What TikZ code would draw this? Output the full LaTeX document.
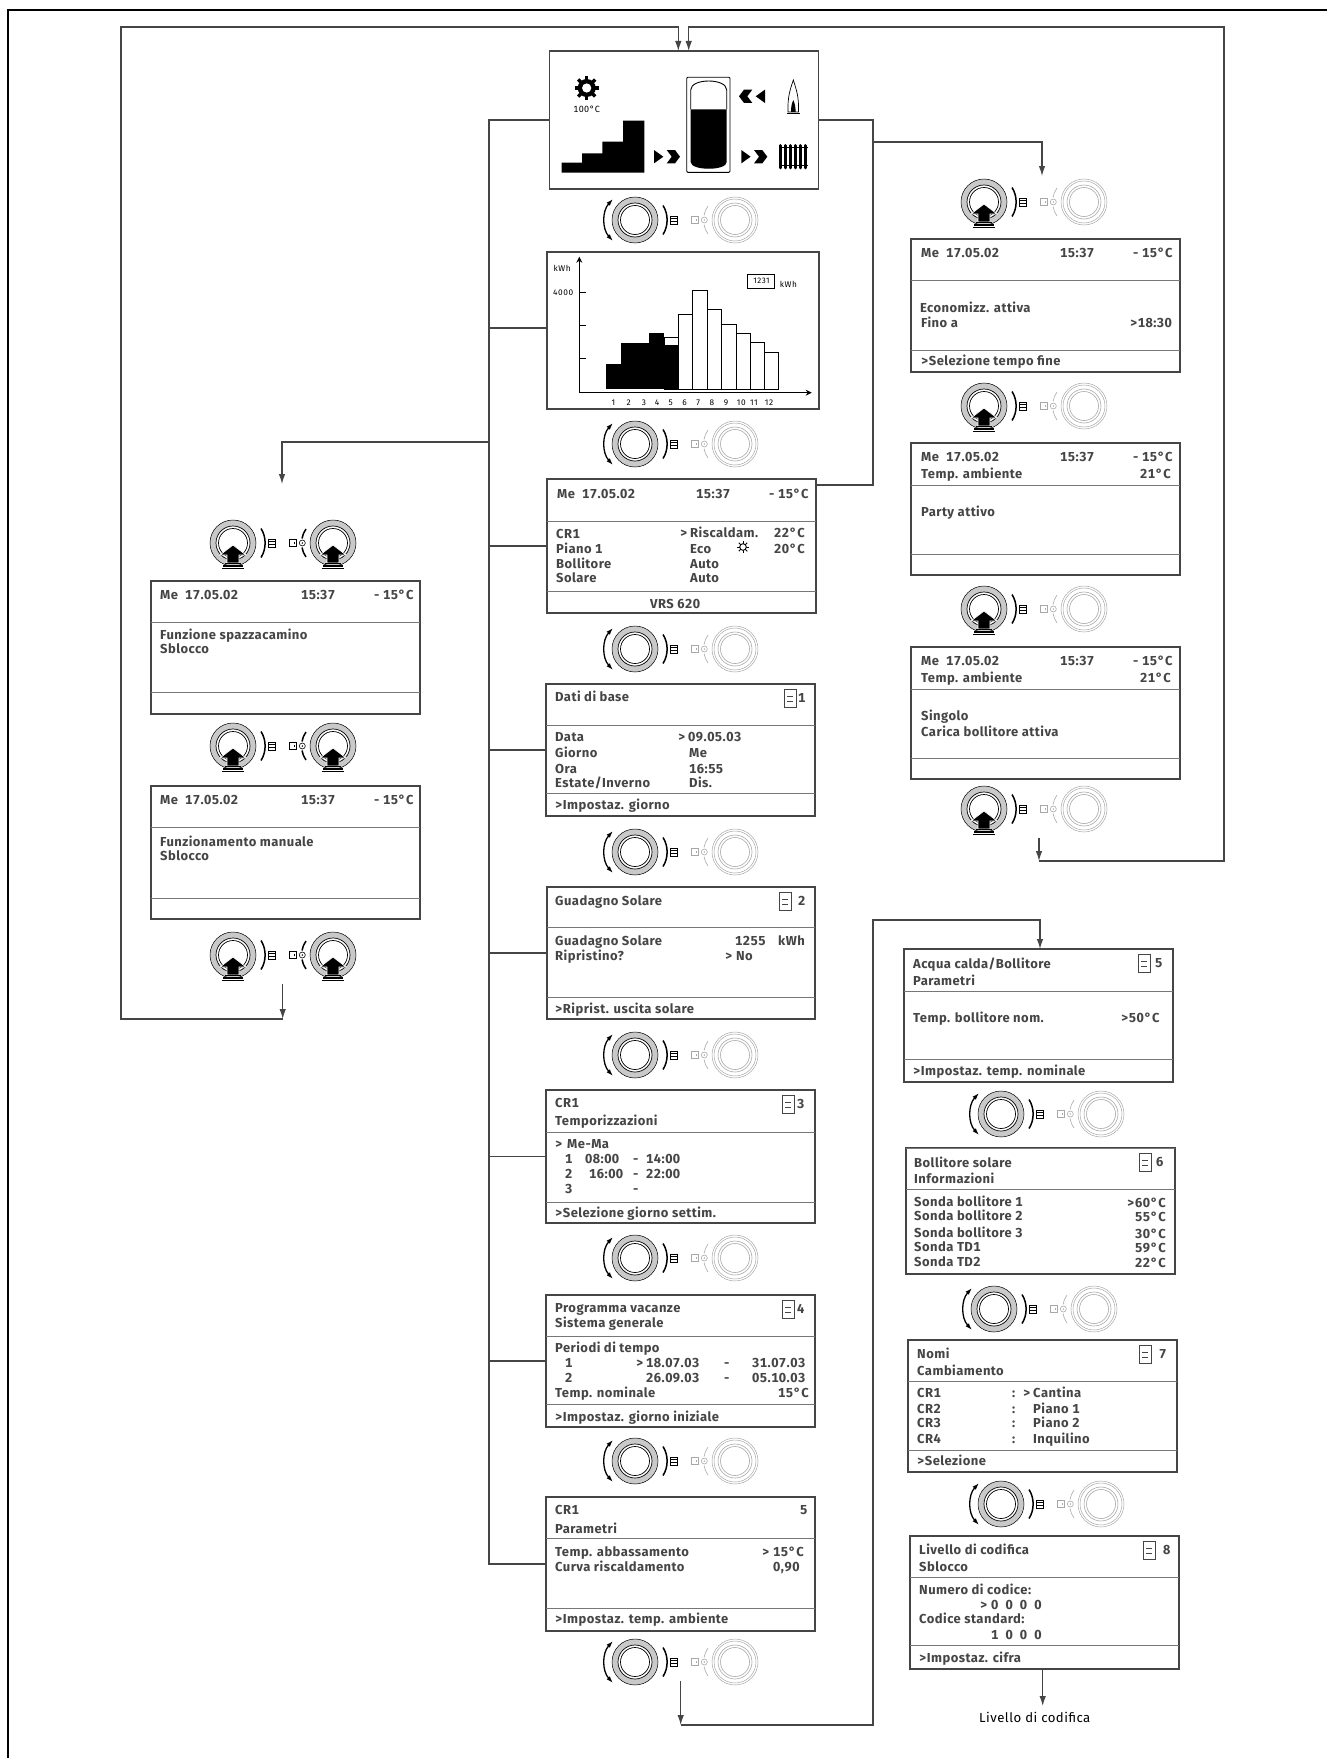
\documentclass[tikz,border=0pt]{standalone}
\usepackage{fontspec}
\usepackage{xcolor}
\usetikzlibrary{arrows.meta,positioning}
\setmainfont{Fira Sans}[LetterSpace=3.5,Numbers=Monospaced]
\newfontfamily\chartfont[LetterSpace=7]{Fira Sans}
\definecolor{inkgray}{HTML}{454545}
\definecolor{rulegray}{HTML}{777777}
\definecolor{fadegray}{HTML}{A8A8A8}

\newcommand{\panel}[7]{%
    \node[screen, minimum width=#4pt, minimum height=#5pt] (#1) at (#2,#3) {};
    \draw[rule] ([yshift=-#6pt]#1.north west) -- ([yshift=-#6pt]#1.north east);
    \draw[rule] ([yshift=-#7pt]#1.north west) -- ([yshift=-#7pt]#1.north east);
}
\newcommand{\screentext}[2]{%
    \begin{scope}[shift={(#1.north west)}]
        \foreach \x/\y/\txt [count=\i] in {#2}
            \node[lbl] (#1t\i) at (\x,\y) {\txt};
    \end{scope}
}
\newcommand{\pageicon}[4]{%
    \begin{scope}[shift={(#1.north west)}]
        \draw[iconbox] (#2,5) rectangle ++(12,18);
        \draw[iconbox] ({#2+3},12.5) -- ++(6,0);
        \draw[iconbox] ({#2+3},17) -- ++(6,0);
        \node[lbl] (#1digit) at (#3,18) {#4};
    \end{scope}
}
\newcommand{\dial}{%
    \draw[black, line width=.5pt, fill=gray!42] (0,0) circle[radius=23pt];
    \draw[black, line width=.7pt, fill=white] (0,0) circle[radius=17pt];
    \draw[black, line width=.7pt] (0,0) circle[radius=14.5pt];
}
\newcommand{\fadedial}{%
    \draw[fadegray, line width=.5pt] (0,0) circle[radius=23pt];
    \draw[fadegray, line width=.5pt] (0,0) circle[radius=21pt];
    \draw[fadegray, line width=.6pt] (0,0) circle[radius=17pt];
    \draw[fadegray, line width=.6pt] (0,0) circle[radius=14.5pt];
}
\newcommand{\pushmark}{%
    \fill[black, draw=white, line width=.7pt] (0,-2) -- (13,-12) -- (6,-12) -- (6,-20) -- (-6,-20) -- (-6,-12) -- (-13,-12) -- cycle;
    \draw[black, line width=1.3pt] (-8,-20.5) -- (8,-20.5);
    \draw[black, line width=1.3pt] (-10,-23) -- (10,-23);
    \draw[black, line width=1.3pt] (-11,-25.5) -- (11,-25.5);
}
\newcommand{\menuside}{%
    \draw[black, line width=1.5pt] (28,14.5) .. controls (33.5,6) and (33.5,-6) .. (28,-14.5);
    \draw[black, line width=.7pt] (35,-4) rectangle (42,4);
    \foreach \h in {-1.5,1.5}
        \draw[black, line width=.5pt] (35,\h) -- (42,\h);
}
\newcommand{\enterside}[2]{%
    \draw[#1, line width=#2] (-27,14) .. controls (-29,11) and (-30.5,8) .. (-31,4.5);
    \draw[#1, line width=#2] (-27,-14) .. controls (-29,-11) and (-30.5,-8) .. (-31,-4.5);
    \draw[#1, line width=.6pt] (-30.7,0) circle[radius=3pt];
    \fill[#1] (-30.7,0) circle[radius=.8pt];
    \draw[#1, line width=.6pt] (-43.3,-3.5) rectangle (-36.7,3.5);
    \draw[#1, line width=.6pt] (-39,-1) -- (-39,1);
}

\begin{document}
\begin{tikzpicture}[
        x=1pt, y=-1pt,
        >={Latex[length=10pt,width=6.5pt]},
        screen/.style={draw=inkgray, fill=white, line width=1.3pt, rectangle, anchor=north west, inner sep=0pt, outer sep=0pt},
        rule/.style={draw=rulegray, line width=1pt},
        lbl/.style={anchor=base west, inner sep=0pt, text=inkgray, font=\bfseries\fontsize{13}{14}\selectfont},
        chartlbl/.style={inner sep=0pt, text=black, font=\chartfont\fontsize{8.3}{9}\selectfont},
        iconbox/.style={draw=inkgray, line width=.7pt},
        wire/.style={draw=inkgray, line width=1.2pt},
        pics/turnpair/.style={code={
            \begin{scope}[x=1pt, y=1pt]
                \dial
                \menuside
                \draw[black, line width=1.3pt, {Latex[length=7pt,width=4.5pt]}-{Latex[length=7pt,width=4.5pt]}] (-22,21) .. controls (-33,9) and (-33,-9) .. (-22,-21);
                \begin{scope}[xshift=100pt]
                    \fadedial
                    \enterside{fadegray}{.6pt}
                \end{scope}
            \end{scope}
        }},
        pics/pushpair/.style={code={
            \begin{scope}[x=1pt, y=1pt]
                \dial
                \menuside
                \pushmark
                \begin{scope}[xshift=100pt]
                    \fadedial
                    \enterside{fadegray}{.6pt}
                \end{scope}
            \end{scope}
        }},
        pics/pushboth/.style={code={
            \begin{scope}[x=1pt, y=1pt]
                \dial
                \menuside
                \pushmark
                \begin{scope}[xshift=100pt]
                    \dial
                    \enterside{black}{1.5pt}
                    \pushmark
                \end{scope}
            \end{scope}
        }},
        pics/flowmark/.style={code={
            \begin{scope}[x=1pt, y=1pt]
                \fill[black] (0,6.7) -- (9.3,0) -- (0,-6.7) -- cycle;
                \fill[black] (12.7,6.7) -- (21,6.7) -- (26,0) -- (21,-6.7) -- (12.7,-6.7) -- (17.7,0) -- cycle;
            \end{scope}
        }}
    ]
    \useasboundingbox (0,0) rectangle (1327,1758);
    \draw[black, line width=1.3pt] (8,1758) -- (8,10) -- (1327,10);

    % screens of the middle column
    \node[screen, minimum width=269pt, minimum height=138pt] (home) at (549.5,51) {};
    \node[screen, minimum width=272pt, minimum height=157pt] (chart) at (547,252) {};
    \panel{base}{547}{479}{269}{134}{42}{112}
    \panel{data}{546}{684}{269}{132}{41}{109}
    \panel{gain}{547}{887}{268}{132}{40}{110}
    \panel{timer}{546}{1090}{269}{133}{42}{112}
    \panel{holiday}{546}{1295}{269}{132}{41}{109}
    \panel{param}{546}{1497}{269}{134}{41}{111}

    % screens of the left column
    \panel{sweep}{151}{581}{269}{133}{41}{111}
    \panel{manual}{151}{786}{269}{133}{41}{112}

    % screens of the right column
    \panel{saving}{911}{239}{269}{133}{41}{111}
    \panel{party}{911}{443}{269}{132}{42}{111}
    \panel{single}{911}{647}{269}{132}{42}{111}
    \panel{water}{904}{949}{269}{133}{42}{110}
    \panel{solar}{906}{1148}{269}{126}{41}{0}
    \panel{names}{908}{1340}{269}{132}{41}{110}
    \panel{code}{910}{1536}{269}{133}{41}{109}

    \screentext{base}{10/19/Me\ \ 17.05.02, 149/19/15:37, 222/19/- 15°C,
        9/59/CR1, 9/74/Piano 1, 9/89/Bollitore, 9/103/Solare,
        133/58/>, 143/58/Riscaldam., 143/74/Eco, 143/89/Auto, 143/103/Auto,
        227/58/22°C, 227/74/20°C, 103/129/VRS 620}
    \screentext{data}{9/17/Dati di base, 9/57/Data, 9/73/Giorno, 9/89/Ora, 9/103/{Estate/Inverno},
        132/57/>, 142/57/09.05.03, 143/73/Me, 143/89/16:55, 143/103/Dis., 9/125/>Impostaz. giorno}
    \pageicon{data}{238}{252}{1}
    \screentext{gain}{8/18/Guadagno Solare, 8/58/Guadagno Solare, 8/73/Ripristino?,
        188/58/1255, 231/58/kWh, 178/73/> No, 8/126/>Riprist. uscita solare}
    \pageicon{gain}{232}{251}{2}
    \screentext{timer}{9/17/CR1, 9/35/Temporizzazioni, 9/58/>, 21/58/Me-Ma,
        19/73/1, 39/73/08:00, 87/73/-, 100/73/14:00,
        19/88/2, 43/88/16:00, 87/88/-, 100/88/22:00,
        19/103/3, 87/103/-, 9/127/>Selezione giorno settim.}
    \pageicon{timer}{236}{251}{3}
    \screentext{holiday}{9/17/Programma vacanze, 9/32/Sistema generale, 9/57/Periodi di tempo,
        19/72/1, 90/72/>, 100/72/18.07.03, 178/72/-, 206/72/31.07.03,
        19/87/2, 100/87/26.09.03, 178/87/-, 206/87/05.10.03,
        9/102/Temp. nominale, 232/102/15°C, 9/126/>Impostaz. giorno iniziale}
    \pageicon{holiday}{236}{251}{4}
    \screentext{param}{9/17/CR1, 254/17/5, 9/36/Parametri, 9/59/Temp. abbassamento, 9/74/Curva riscaldamento,
        216/59/>, 227/59/15°C, 227/74/{0,90}, 9/126/>Impostaz. temp. ambiente}

    \screentext{sweep}{9/18/Me\ \ 17.05.02, 150/18/15:37, 223/18/- 15°C,
        9/58/Funzione spazzacamino, 9/72/Sblocco}
    \screentext{manual}{9/18/Me\ \ 17.05.02, 150/18/15:37, 223/18/- 15°C,
        9/60/Funzionamento manuale, 9/74/Sblocco}

    \screentext{saving}{10/18/Me\ \ 17.05.02, 149/18/15:37, 222/18/- 15°C,
        9/73/Economizz. attiva, 10/88/Fino a, 219/88/>18:30, 10/126/>Selezione tempo fine}
    \screentext{party}{10/18/Me\ \ 17.05.02, 149/18/15:37, 222/18/- 15°C,
        10/35/Temp. ambiente, 229/35/21°C, 10/73/Party attivo}
    \screentext{single}{10/18/Me\ \ 17.05.02, 149/18/15:37, 222/18/- 15°C,
        10/35/Temp. ambiente, 229/35/21°C, 10/73/Singolo, 10/89/Carica bollitore attiva}
    \screentext{water}{9/19/{Acqua calda/Bollitore}, 9/36/Parametri, 9/73/Temp. bollitore nom.,
        217/73/>50°C, 9/126/>Impostaz. temp. nominale}
    \pageicon{water}{234}{251}{5}
    \screentext{solar}{8/19/Bollitore solare, 8/35/Informazioni,
        8/58/Sonda bollitore 1, 8/72/Sonda bollitore 2, 8/89/Sonda bollitore 3, 8/103/Sonda TD1, 8/118/Sonda TD2,
        221/59/>, 229/59/60°C, 229/73/55°C, 229/90/30°C, 229/104/59°C, 229/119/22°C}
    \pageicon{solar}{233}{250}{6}
    \screentext{names}{9/18/Nomi, 9/35/Cambiamento, 9/57/CR1, 9/73/CR2, 9/87/CR3, 9/103/CR4,
        104/57/:, 104/73/:, 104/87/:, 104/103/:, 115/57/>,
        125/57/Cantina, 125/73/Piano 1, 125/87/Piano 2, 125/103/Inquilino, 9/125/>Selezione}
    \pageicon{names}{231}{251}{7}
    \screentext{code}{9/18/Livello di codifica, 9/35/Sblocco, 9/58/Numero di codice:,
        70/73/>, 81/73/0\ \ 0\ \ 0\ \ 0, 9/87/Codice standard:, 81/103/1\ \ 0\ \ 0\ \ 0, 9/126/>Impostaz. cifra}
    \pageicon{code}{233}{253}{8}

    % home screen symbols
    \foreach \a in {0,45,...,315}
        \draw[black, line width=3.4pt] (586.7,88) -- +(\a:12pt);
    \fill[black] (586.7,88) circle[radius=9pt];
    \fill[white] (586.7,88) circle[radius=4.6pt];
    \node[chartlbl, font=\fontsize{9}{10}\selectfont, anchor=base] (hometemp) at (586.7,113) {100°C};
    \fill[black] (561.7,172.7) -- (561.7,162.7) -- (582,162.7) -- (582,153.3) -- (602.3,153.3) -- (602.3,141.7) -- (623,141.7) -- (623,120.7) -- (644.3,120.7) -- (644.3,172.7) -- cycle;
    \pic at (654,156.7) {flowmark};
    \pic at (741.3,156.7) {flowmark};
    \pic[xscale=-1] at (765,96.3) {flowmark};
    \draw[black, line width=.9pt, rounded corners=1pt] (686.7,77.3) rectangle (730,172.3);
    \draw[black, line width=.9pt] (690.7,109.3) -- (690.7,90) .. controls (690.7,78) and (726.7,78) .. (726.7,90) -- (726.7,109.3);
    \fill[black] (690.7,109.3) -- (726.7,109.3) -- (726.7,162) .. controls (726.7,171) and (690.7,171) .. (690.7,162) -- cycle;
    \draw[black, line width=.7pt] (793.3,80) .. controls (790,90) and (787.5,97) .. (788,112) -- (798.5,112) .. controls (799,97) and (796.5,90) .. (793.3,80) -- cycle;
    \fill[black] (793.3,100) .. controls (791.5,104) and (791,107) .. (791,112) -- (795.6,112) .. controls (795.6,107) and (795,104) .. (793.3,100) -- cycle;
    \draw[black, line width=1.1pt] (787,113.5) -- (799.5,113.5);
    \draw[black, line width=1.8pt] (779,147.5) -- (808,147.5);
    \draw[black, line width=1.8pt] (779,165.5) -- (808,165.5);
    \foreach \x in {780.5,785.5,790.5,795.5,800.5,805.5}
        \draw[black, line width=3pt, line cap=round] (\x,145.5) -- (\x,167.8);

    % energy chart
    \draw[black, line width=1pt, -{Stealth[length=6pt,width=6pt]}] (579.3,392.7) -- (579.3,256.7);
    \draw[black, line width=1pt, -{Stealth[length=6pt,width=6pt]}] (579.3,392.7) -- (811.7,392.7);
    \foreach \y in {292.3,325.7,358.7}
        \draw[black, line width=.9pt] (579.3,\y) -- (586,\y);
    \draw[black, line width=1pt, fill=white] (664,389) rectangle (678.7,337.3);
    \foreach \xa/\xb/\ytop in {606/620.7/364, 620.7/635/342.7, 635/649.3/342.7, 649.3/664/333.3, 664/678.7/345.3}
        \fill[black] (\xa,389) rectangle (\xb,\ytop);
    \foreach \xa/\xb/\ytop in {678.7/692.7/314, 692.7/707.3/290, 707.3/721.7/309, 721.7/736/324.7, 736/750/333.7, 750/764.3/342.7, 764.3/778.7/352.3}
        \draw[black, line width=1pt, fill=white] (\xa,389) rectangle (\xb,\ytop);
    \node[chartlbl, anchor=base west] (unit) at (553.3,271.7) {kWh};
    \node[chartlbl, anchor=base west] (fullscale) at (553,295) {4000};
    \node[chartlbl, draw=black, line width=.9pt, minimum width=27pt, minimum height=14pt, font=\chartfont\fontsize{8}{9}\selectfont] (total) at (761.4,281.3) {1231};
    \node[chartlbl, anchor=base west] (totalunit) at (779.7,287.3) {kWh};
    \foreach \x [count=\m] in {613.3,628.7,644,657,670.7,684.7,698.3,712,726,741.3,754,769}
        \node[chartlbl, anchor=base] (month\m) at (\x,405.7) {\m};

    % small sun in the status screen
    \foreach \a in {0,45,...,315}
        \draw[black, line width=.9pt] (743,547) -- +(\a:6pt);
    \draw[black, line width=.9pt, fill=white] (743,547) circle[radius=3.3pt];

    % dials
    \foreach \y in {220,444,649,852,1055,1258,1461,1662}
        \pic at (635,\y) {turnpair};
    \foreach \y in {202,406,609,809}
        \pic at (984,\y) {pushpair};
    \foreach \y in {543,746,955}
        \pic at (233,\y) {pushboth};
    \pic at (1001,1114) {turnpair};
    \pic at (994,1309) {turnpair};
    \pic at (1001,1504) {turnpair};

    % connectors
    \coordinate (trunk) at (489,0);
    \coordinate (rightbus) at (873,0);
    \coordinate (loopleft) at (121,27);
    \coordinate (loopright) at (1224,27);
    \coordinate (leftdrop) at (282,442);
    \coordinate (leftend) at (282,484);
    \coordinate (sweepout) at (282.7,984);
    \coordinate (sweepend) at (282.7,1019);
    \coordinate (rightdrop) at (1042,142);
    \coordinate (rightend) at (1042,176);
    \coordinate (singleout) at (1039,838);
    \coordinate (singleend) at (1039,861);
    \coordinate (paramout) at (680.7,1681);
    \coordinate (paramend) at (680.7,1725);
    \coordinate (waterdrop) at (1040,920);
    \coordinate (codeend) at (1042.7,1706);

    \draw[wire] (home.west) -- (trunk |- home.west) -- (trunk |- param.west) -- (param.west);
    \foreach \p in {base,data,gain,timer,holiday}
        \draw[wire] (trunk |- \p.west) -- (\p.west);
    \draw[wire] (trunk |- 0,328) -- ([yshift=2.5pt]chart.west);
    \draw[wire, ->] (trunk |- leftdrop) -- (leftdrop) -- (leftend);
    \draw[wire] (home.east) -- (rightbus |- home.east) -- (rightbus |- 0,485) -- ([yshift=-6pt]base.north east);
    \draw[wire, ->] (rightbus |- rightdrop) -- (rightdrop) -- (rightend);
    \draw[wire, ->] (sweepout) -- (sweepend);
    \draw[wire, ->] (sweepend) -- (loopleft |- sweepend) -- (loopleft) -- ([xshift=-5.7pt]home.north |- loopleft) -- ([xshift=-5.7pt]home.north);
    \draw[wire, ->] (singleout) -- (singleend);
    \draw[wire, ->] (singleend) -- (loopright |- singleend) -- (loopright) -- ([xshift=4.7pt]home.north |- loopright) -- ([xshift=4.7pt]home.north);
    \draw[wire, ->] (paramout) -- (paramend);
    \draw[wire, ->] (paramend) -- (rightbus |- paramend) -- (rightbus |- waterdrop) -- (waterdrop) -- (waterdrop |- water.north);
    \draw[wire, ->] (code.south -| codeend) -- (codeend);
    \node[anchor=base west, inner sep=0pt, text=black, font=\fontsize{13.2}{14}\selectfont] (codelabel) at (979,1722.7) {Livello di codifica};
\end{tikzpicture}
\end{document}
